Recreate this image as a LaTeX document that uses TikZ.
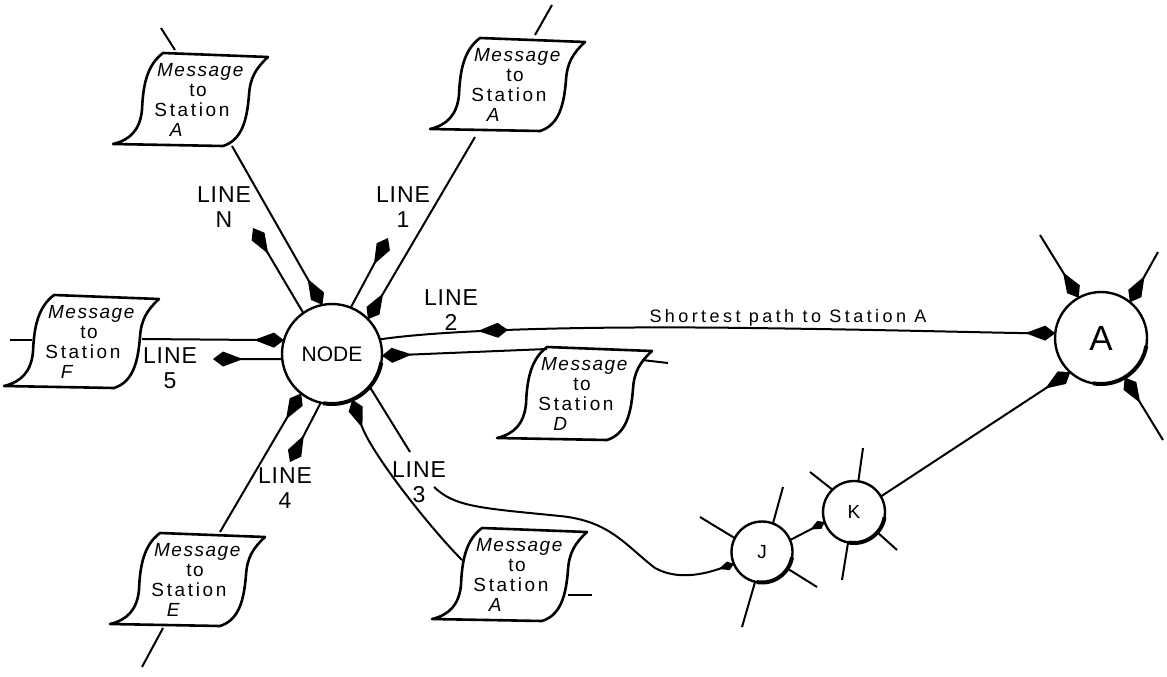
\documentclass[tikz,border=0pt]{standalone}
\usepackage{fontspec}
\setmainfont{Liberation Sans}
\newfontfamily\msgfont[LetterSpace=8]{Liberation Sans}
\newfontfamily\stfont[LetterSpace=14]{Liberation Sans}
\newfontfamily\spfont[LetterSpace=19]{Liberation Sans}
\newfontfamily\lblfont[LetterSpace=4]{Liberation Sans}
\usetikzlibrary{arrows.meta,decorations.markings}
\newcommand\msgtext[1]{\hspace*{18pt}\textit{Message}\\\hspace*{12pt}to\\{\stfont Station}\hspace*{8pt}\\\textit{#1}\hspace*{30pt}}
\newcommand\msgoutline[1]{%
  \begin{scope}[shift={(#1.center)}]
    \draw[boxline] (-29,-47) -- (76,-43)
      .. controls (64,-32) and (58,-22) .. (57,-5)
      .. controls (55,20) and (50,40) .. (31,46)
      -- (-79,44)
      .. controls (-62,40) and (-52,30) .. (-50,10)
      .. controls (-49,-15) and (-45,-35) .. cycle;
  \end{scope}}
\begin{document}
\begin{tikzpicture}[x=1pt,y=-1pt,
  conn/.style={line width=2pt},
  bigtip/.tip={Kite[length=30pt,width=15pt,inset=20pt]},
  smalltip/.tip={Kite[length=16pt,width=9pt,inset=10pt]},
  arr/.style={conn,-bigtip},
  sarr/.style={conn,-smalltip},
  station/.style={circle,draw,line width=2.4pt,outer sep=0pt,inner sep=0pt,fill=white},
  boxline/.style={line width=2.6pt,line join=round},
  msgtext/.style={align=center,font=\fontsize{19}{20}\msgfont,inner sep=0pt},
  lbl/.style={align=center,font=\fontsize{23}{25}\lblfont,inner sep=1pt},
  midarrow/.style={postaction={decorate},decoration={markings,
     mark=at position 0.19 with {\arrow{bigtip}}}},
]
\path[use as bounding box] (0,0) rectangle (1167,677);

% stations
\node[station,minimum size=100pt,font=\fontsize{21}{21}\selectfont] (node) at (332,354) {NODE};
\node[station,minimum size=92pt,font=\fontsize{35}{35}\selectfont] (A) at (1101,338) {A};
\node[station,minimum size=61pt,font=\fontsize{19}{19}\selectfont] (J) at (762,552) {J};
\node[station,minimum size=62pt,font=\fontsize{19}{19}\selectfont] (K) at (854,512) {K};
\draw[line width=4pt] (node.-10) arc[start angle=10,end angle=100,radius=50];
\draw[line width=4pt] (A.-10) arc[start angle=10,end angle=100,radius=46];
\draw[line width=4pt] (J.-10) arc[start angle=10,end angle=100,radius=30.5];
\draw[line width=4pt] (K.-10) arc[start angle=10,end angle=100,radius=31];

% message boxes
\node[msgtext] (m1) at (192,100) {\msgtext{A}};
\node[msgtext] (m2) at (509,85) {\msgtext{A}};
\node[msgtext] (mF) at (83,342) {\msgtext{F}};
\node[msgtext] (mD) at (576,394) {\msgtext{D}};
\node[msgtext] (mE) at (189,580) {\msgtext{E}};
\node[msgtext] (mA) at (511,575) {\msgtext{A}};
\msgoutline{m1}
\msgoutline{m2}
\msgoutline{mF}
\msgoutline{mD}
\msgoutline{mE}
\msgoutline{mA}

% labels
\node[lbl] (LN) at (224,207) {LINE\\N};
\node[lbl] (L1) at (403,207) {LINE\\1};
\node[lbl] (L2) at (451,310) {LINE\\2};
\node[lbl] (L5) at (170,368) {LINE\\5};
\node[lbl] (L4) at (285,488) {LINE\\4};
\node[lbl] (L3) at (419,482) {LINE\\3};
\node[font=\fontsize{18}{18}\spfont] (sp) at (788,318) {Shortest path to Station A};

% line N
\coordinate (nTop) at (161,28);
\coordinate (nTopIn) at (175,50);
\coordinate (nBox) at (232,146);
\coordinate (nOut) at (253,228);
\draw[conn] (nTop) -- (nTopIn);
\draw[arr] (nBox) -- (node.101);
\draw[arr] (node.125) -- (nOut);

% line 1
\coordinate (oTop) at (552,5);
\coordinate (oTopIn) at (535,35);
\coordinate (oBox) at (475,137);
\coordinate (oOut) at (388,238);
\draw[conn] (oTop) -- (oTopIn);
\draw[arr] (oBox) -- (node.44);
\draw[arr] (node.68) -- (oOut);

% line 5
\coordinate (fL1) at (10,340);
\coordinate (fL2) at (32,340);
\coordinate (fR) at (142,339);
\coordinate (fOut) at (213,359);
\draw[conn] (fL1) -- (fL2);
\draw[arr] (fR) -- (node.164);
\draw[arr] (node.186) -- (fOut);

% line 4
\coordinate (eTop) at (220,532);
\coordinate (eB1) at (163,628);
\coordinate (eB2) at (142,667);
\coordinate (eOut) at (290,462);
\draw[arr] (eTop) -- (node.232);
\draw[conn] (eB1) -- (eB2);
\draw[arr] (node.257) -- (eOut);

% line 3
\coordinate (l3a) at (410,452);
\coordinate (l3b) at (434,487);
\draw[conn] (node.-41) -- (l3a);
\draw[sarr] (l3b) .. controls (455,507) and (480,508) .. (560,516)
   .. controls (610,521) and (625,545) .. (655,568)
   .. controls (680,582) and (710,572) .. (J.203);
\coordinate (a3in) at (462,560);
\coordinate (aS1) at (568,595);
\coordinate (aS2) at (592,595);
\draw[arr] (a3in) .. controls (432,530) and (372,455) .. (node.-66);
\draw[conn] (aS1) -- (aS2);

% line 2 and D
\draw[arr,midarrow] (node.17) .. controls (450,329) and (600,326) .. (750,328)
   .. controls (900,330) and (1000,333) .. (A.174);
\coordinate (dIn) at (547,349);
\coordinate (dS1) at (642,360);
\coordinate (dS2) at (668,363);
\draw[arr] (dIn) -- (node.-2);
\draw[conn] (dS1) -- (dS2);

% J, K, A
\draw[sarr] (J.23) -- (K.199);
\draw[arr] (K.30) -- (A.228);
\coordinate (aUL) at (1040,235);
\coordinate (aUR) at (1158,252);
\coordinate (aLR) at (1163,440);
\draw[arr] (aUL) -- (A.119);
\draw[arr] (aUR) -- (A.51);
\draw[arr] (aLR) -- (A.-59);

\coordinate (j1) at (700,517);
\coordinate (j2) at (783,487);
\coordinate (j3) at (817,587);
\coordinate (j4) at (742,627);
\draw[conn] (J.153) -- (j1);
\draw[conn] (J.69) -- (j2);
\draw[conn] (J.-33) -- (j3);
\draw[conn] (J.-103) -- (j4);
\coordinate (k1) at (810,472);
\coordinate (k2) at (863,448);
\coordinate (k3) at (897,550);
\coordinate (k4) at (842,580);
\draw[conn] (K.134) -- (k1);
\draw[conn] (K.82) -- (k2);
\draw[conn] (K.-41) -- (k3);
\draw[conn] (K.-101) -- (k4);
\end{tikzpicture}
\end{document}
